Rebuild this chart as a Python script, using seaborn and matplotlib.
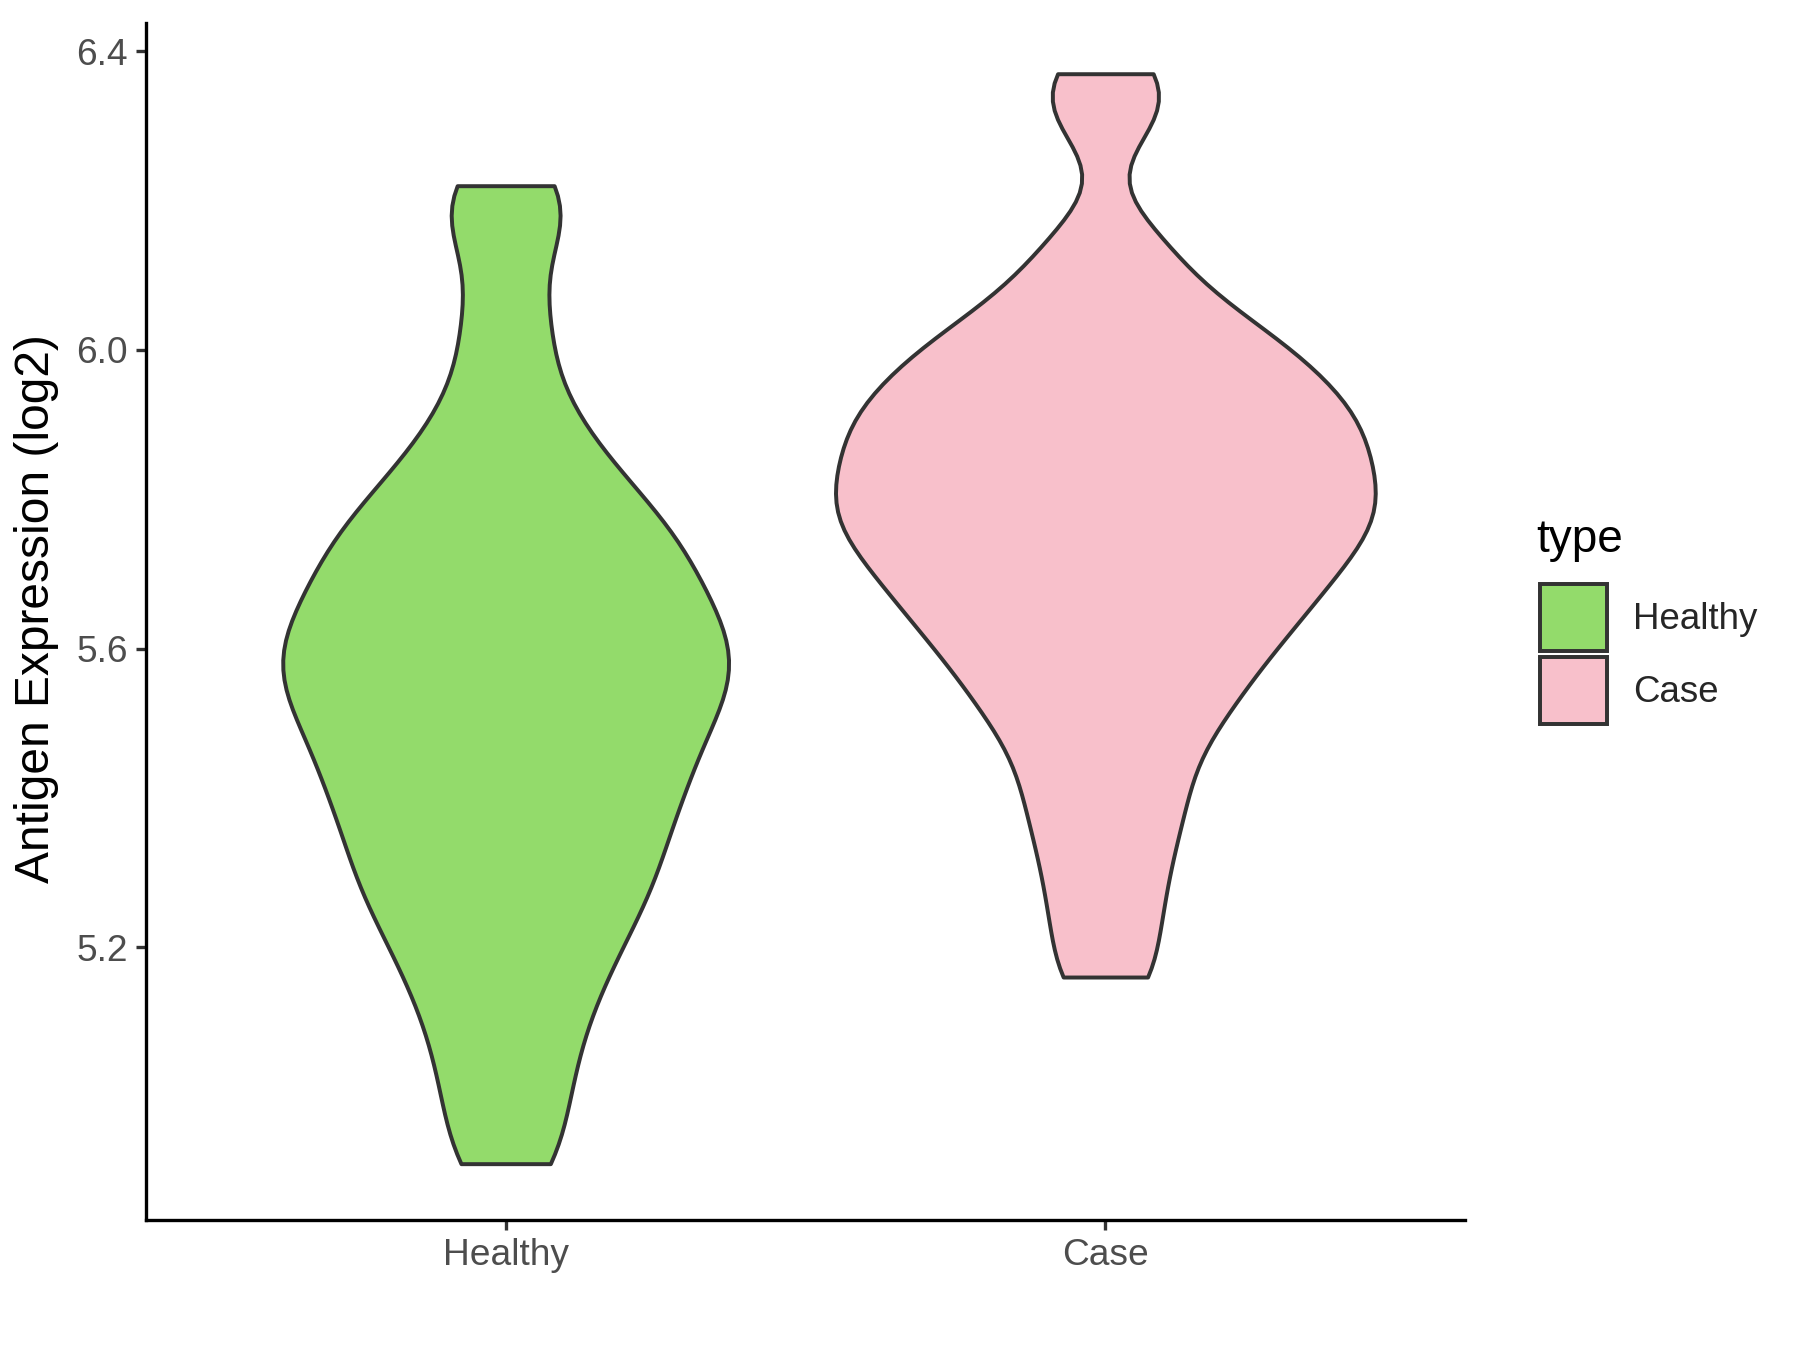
import pandas as pd
import matplotlib.pyplot as plt
import seaborn as sns

groups = ['Healthy', 'Case']
healthy_vals = [4.91, 4.99, 5.06, 5.12, 5.17, 5.21, 5.25, 5.28, 5.31,
                5.34, 5.37, 5.40, 5.42, 5.45, 5.47, 5.50, 5.52, 5.54, 5.56,
                5.58, 5.60, 5.62, 5.64, 5.66, 5.69, 5.71, 5.74, 5.76, 5.79,
                5.83, 5.87, 5.94, 6.04, 6.16, 6.22]
case_vals = [5.16, 5.24, 5.31, 5.37, 5.42, 5.47, 5.51, 5.54, 5.57,
             5.60, 5.62, 5.64, 5.67, 5.68, 5.70, 5.72, 5.74, 5.75, 5.77,
             5.78, 5.80, 5.81, 5.83, 5.84, 5.86, 5.88, 5.89, 5.91, 5.92,
             5.94, 5.96, 5.98, 6.00, 6.02, 6.05, 6.09, 6.15, 6.31, 6.37]
palette = {'Healthy': '#93DB6B', 'Case': '#F8C0CB'}
y_ticks = [5.2, 5.6, 6.0, 6.4]

df = pd.DataFrame({
    'type': ['Healthy'] * len(healthy_vals) + ['Case'] * len(case_vals),
    'value': healthy_vals + case_vals,
})

sns.set_style('white')
plt.rcParams['font.family'] = ['Liberation Sans', 'DejaVu Sans']

fig = plt.figure(figsize=(12, 9), dpi=150)
ax = fig.add_axes([0.081, 0.096, 0.733, 0.887])

sns.violinplot(data=df, x='type', y='value', hue='type', order=groups, hue_order=groups,
               palette=palette, cut=0, inner=None, density_norm='area', common_norm=True,
               width=0.9, bw_adjust=0.42, linewidth=1.9, linecolor='#333333',
               saturation=1, legend=True, ax=ax)

ax.set_xlim(-0.6, 1.6)
ax.set_ylim(4.834, 6.438)
ax.set_yticks(y_ticks)
ax.set_yticklabels([f'{t:.1f}' for t in y_ticks])
ax.set_xlabel('')
ax.set_ylabel('Antigen Expression (log2)', fontsize=23, color='black')
ax.yaxis.set_label_coords(-0.066, 0.511)
ax.tick_params(axis='both', labelsize=17.8, labelcolor='#4D4D4D', color='#333333',
               length=5, width=1.6, left=True, bottom=True)
for side in ['top', 'right']:
    ax.spines[side].set_visible(False)
for side in ['left', 'bottom']:
    ax.spines[side].set_color('black')
    ax.spines[side].set_linewidth(1.6)

# legend keys and labels; the title is placed separately to match the spacing
sns.move_legend(ax, 'center left', bbox_to_anchor=(0.8455, 0.5156),
                bbox_transform=fig.transFigure, title=None, frameon=False,
                fontsize=17.6, handlelength=1.82, handleheight=2.45,
                labelspacing=0.15, handletextpad=0.7, borderpad=0)
leg = ax.get_legend()
for h in leg.legend_handles:
    h.set_edgecolor('#333333')
    h.set_linewidth(1.9)
fig.text(0.8535, 0.600, 'type', fontsize=22, ha='left', va='center', color='black')

fig.savefig('out.png', dpi=150)
